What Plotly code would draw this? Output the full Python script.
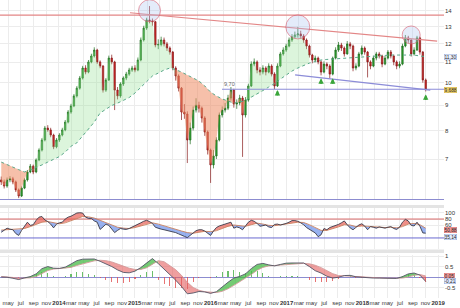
import numpy as np
import pandas as pd
import plotly.graph_objects as go

# ---------------- data ----------------
candle_start = "2013-03-29"      # bi-weekly candles
first_open = 6.35
close = [6.29, 6.17, 6.35, 6.38, 6.29, 6.06, 5.89, 6.11, 6.35, 6.59,
         6.77, 6.59, 6.97, 7.30, 7.65, 8.09, 8.02, 7.83, 7.41, 7.65,
         7.83, 8.02, 8.32, 8.72, 8.97, 9.40, 9.75, 10.22, 10.71, 10.51,
         11.02, 11.33, 11.65, 11.02, 10.81, 9.66, 10.13, 11.22, 11.02, 9.66,
         9.40, 9.94, 10.22, 10.41, 10.61, 10.71, 10.61, 11.12, 12.21, 12.91,
         13.41, 13.35, 13.30, 11.93, 11.95, 12.21, 11.99, 11.76, 11.54, 10.71,
         10.32, 9.75, 8.72, 8.64, 7.65, 8.09, 8.80, 9.00, 8.88, 8.48,
         7.94, 7.30, 6.81, 7.10, 7.65, 8.60, 8.80, 8.88, 9.31, 9.66,
         9.05, 9.10, 9.31, 8.60, 9.22, 9.85, 10.91, 11.02, 10.61, 10.51,
         10.71, 10.51, 10.81, 10.41, 9.85, 10.81, 11.44, 11.65, 11.87, 12.21,
         12.39, 12.50, 12.56, 12.44, 12.21, 11.87, 11.38, 11.12, 11.22, 11.02,
         10.51, 10.91, 10.81, 10.41, 11.22, 11.65, 11.93, 11.76, 11.44, 11.99,
         11.87, 10.71, 10.81, 11.44, 11.76, 11.54, 11.02, 10.81, 11.22, 11.44,
         11.33, 10.91, 11.22, 11.54, 11.33, 11.02, 10.81, 10.91, 11.87, 12.33,
         12.21, 11.44, 11.65, 12.33, 11.54, 10.13, 9.688]
high = [6.45, 6.36, 6.42, 6.46, 6.44, 6.33, 6.10, 6.16, 6.40, 6.65,
        6.84, 6.82, 7.02, 7.36, 7.72, 8.17, 8.20, 8.10, 7.88, 7.72,
        7.90, 8.10, 8.40, 8.80, 9.06, 9.48, 9.84, 10.32, 10.82, 10.85,
        11.12, 11.45, 11.80, 11.72, 11.10, 10.86, 10.22, 11.35, 11.40, 11.08,
        9.80, 10.02, 10.30, 10.52, 10.72, 10.82, 10.85, 11.25, 12.35, 13.05,
        13.55, 14.31, 13.50, 13.35, 12.25, 12.40, 12.35, 12.10, 11.85, 11.60,
        10.80, 10.40, 9.80, 9.05, 8.75, 8.30, 8.95, 9.30, 9.15, 8.95,
        8.55, 8.00, 7.35, 7.30, 7.75, 8.70, 8.95, 9.10, 9.45, 9.80,
        9.72, 9.25, 9.45, 9.40, 9.35, 9.95, 11.05, 11.20, 11.10, 10.75,
        10.85, 10.80, 10.95, 10.90, 10.50, 10.95, 11.55, 11.80, 12.00, 12.35,
        12.55, 12.70, 12.98, 12.75, 12.55, 12.30, 11.95, 11.45, 11.35, 11.30,
        11.10, 11.05, 11.00, 10.90, 11.30, 11.80, 12.10, 12.05, 11.85, 12.15,
        12.10, 11.95, 10.95, 11.55, 11.90, 11.85, 11.60, 11.10, 11.35, 11.55,
        11.55, 11.40, 11.35, 11.65, 11.65, 11.40, 11.10, 11.05, 12.00, 12.50,
        12.45, 12.25, 11.80, 12.45, 12.40, 11.60, 10.20]
low = [6.20, 6.10, 6.12, 6.28, 6.22, 6.00, 5.83, 5.86, 6.08, 6.30,
       6.55, 6.52, 6.55, 6.93, 7.25, 7.60, 7.95, 7.75, 7.33, 7.36,
       7.58, 7.78, 7.97, 8.27, 8.65, 8.92, 9.33, 9.68, 10.15, 10.40,
       10.45, 10.95, 11.25, 10.92, 10.70, 9.55, 9.58, 10.08, 10.90, 8.80,
       9.25, 9.32, 9.85, 10.12, 10.33, 10.52, 10.50, 10.55, 11.05, 12.12,
       12.80, 13.20, 13.05, 11.80, 11.70, 11.85, 11.85, 11.60, 11.40, 10.60,
       10.10, 9.60, 8.40, 8.45, 6.87, 7.50, 8.00, 8.70, 8.70, 8.30,
       7.80, 7.15, 6.26, 6.70, 7.00, 7.60, 8.50, 8.70, 8.80, 9.20,
       8.90, 8.85, 9.00, 7.07, 8.50, 9.15, 9.80, 10.80, 10.45, 10.35,
       10.40, 10.35, 10.45, 10.30, 9.70, 9.80, 10.75, 11.35, 11.55, 11.80,
       12.10, 12.30, 12.35, 12.30, 12.05, 11.70, 11.25, 10.95, 11.00, 10.90,
       10.35, 10.45, 10.65, 10.20, 10.35, 11.15, 11.55, 11.60, 11.30, 11.40,
       11.70, 10.55, 10.60, 10.75, 11.35, 11.40, 10.25, 10.65, 10.75, 11.10,
       11.20, 10.75, 10.85, 11.15, 11.20, 10.85, 10.65, 10.70, 10.85, 11.80,
       12.05, 11.30, 11.35, 11.60, 11.40, 10.00, 9.60]

# slow average of price (every 4 weeks)
trend_ma = [6.90, 6.83, 6.74, 6.66, 6.59, 6.65, 6.72, 6.81, 6.90, 7.00,
            7.08, 7.23, 7.43, 7.55, 7.80, 8.02, 8.32, 8.68, 8.84, 8.99,
            9.09, 9.20, 9.33, 9.53, 9.80, 10.08, 10.32, 10.46, 10.61, 10.71,
            10.63, 10.51, 10.37, 10.22, 10.08, 9.85, 9.57, 9.40, 9.27, 9.18,
            9.09, 9.14, 9.20, 9.35, 9.48, 9.64, 9.80, 9.96, 10.17, 10.37,
            10.56, 10.71, 10.84, 10.96, 11.04, 11.12, 11.15, 11.17, 11.22, 11.22,
            11.25, 11.27, 11.27, 11.30, 11.33, 11.33, 11.35, 11.38, 11.38, 11.38,
            11.38, 11.38, 11.33, 11.30]

# oscillator (bi-weekly) and its average (every 4 weeks)
rsi = [38, 45, 51, 48, 46, 34, 28, 44, 58, 70,
       60, 62, 76, 86, 88, 77, 72, 64, 52, 64,
       68, 70, 80, 86, 89, 94, 99, 100, 99, 86,
       82, 82, 74, 70, 47, 55, 64, 60, 50, 37,
       44, 50, 48, 47, 50, 54, 58, 62, 68, 73,
       76, 72, 66, 54, 50, 48, 46, 44, 41, 39,
       37, 33, 28, 25, 21, 28, 36, 43, 46, 46,
       42, 35, 28, 42, 53, 58, 61, 64, 68, 70,
       51, 55, 52, 46, 58, 70, 76, 73, 66, 57,
       59, 61, 55, 53, 63, 64, 61, 63, 66, 70,
       75, 75, 73, 68, 62, 53, 48, 42, 36, 24,
       30, 50, 46, 53, 56, 58, 63, 68, 74, 62,
       52, 46, 53, 61, 65, 58, 46, 56, 54, 51,
       55, 54, 51, 54, 56, 50, 47, 54, 70, 79,
       74, 60, 58, 70, 57, 36, 35.14]
rsi_signal = [45, 46, 47, 47, 50, 56, 63, 70, 72, 68,
              65, 68, 75, 82, 88, 87, 83, 76, 68, 60,
              54, 51, 50, 53, 58, 65, 68, 64, 58, 52,
              47, 42, 37, 35, 38, 41, 40, 43, 50, 57,
              61, 59, 57, 62, 67, 64, 60, 59, 61, 63,
              67, 70, 69, 62, 52, 44, 44, 49, 55, 62,
              61, 56, 58, 57, 55, 54, 53, 54, 52, 56,
              64, 66, 62, 50.88]

macd = [0.00, -0.01, -0.06, -0.12, -0.04, 0.02, 0.15, 0.40, 0.50, 0.42,
        0.41, 0.47, 0.62, 0.78, 0.85, 0.87, 0.86, 0.75, 0.64, 0.50,
        0.34, 0.22, 0.20, 0.28, 0.45, 0.68, 0.88, 0.64, 0.38, 0.12,
        -0.15, -0.45, -0.80, -0.76, -0.69, -0.71, -0.78, -0.70, -0.46, -0.25,
        -0.05, 0.03, 0.15, 0.40, 0.60, 0.65, 0.58, 0.53, 0.60, 0.66,
        0.67, 0.67, 0.67, 0.50, 0.30, 0.19, 0.04, -0.05, -0.01, 0.07,
        0.08, 0.01, -0.02, -0.02, -0.05, -0.05, -0.05, -0.07, -0.07, 0.02,
        0.15, 0.19, 0.09, -0.21]
macd_signal = [0.02, 0.01, -0.02, -0.05, -0.06, -0.04, 0.02, 0.15, 0.31, 0.38,
               0.40, 0.42, 0.46, 0.55, 0.63, 0.71, 0.77, 0.80, 0.78, 0.72,
               0.62, 0.52, 0.42, 0.36, 0.36, 0.44, 0.60, 0.78, 0.73, 0.55,
               0.35, 0.08, -0.25, -0.50, -0.63, -0.70, -0.73, -0.74, -0.68, -0.56,
               -0.40, -0.21, -0.05, 0.12, 0.32, 0.46, 0.53, 0.55, 0.57, 0.60,
               0.62, 0.64, 0.65, 0.63, 0.56, 0.45, 0.30, 0.16, 0.07, 0.05,
               0.05, 0.04, 0.02, 0.00, -0.02, -0.04, -0.05, -0.06, -0.06, -0.05,
               0.00, 0.08, 0.12, 0.05]

price_ticks = [7, 8, 9, 10, 11, 12, 13, 14]
rsi_ticks = [60, 80, 100]
macd_ticks = [-0.5, 0.5, 1]
rsi_levels = [80, 20]

resistance = 13.72
support = 9.70
support_from = "2016-02-25"
upper_trend_x = ["2014-12-09", "2018-12-27"]
upper_trend_y = [13.87, 12.15]
lower_trend_x = ["2017-02-11", "2018-11-24"]
lower_trend_y = [10.37, 9.66]
peak_idx = [51, 102, 141]
peak_level = [14.0, 12.98, 12.5]
peak_radius_px = [11, 12, 9]
signal_idx = [95, 110, 114, 146]
fill_regimes = [(0, 10, "down"), (10, 60, "up"), (60, 84, "down"), (84, 106, "up")]
x_start, x_end = "2013-03-23", "2019-01-29"

# ---------------- construction ----------------
dates = pd.date_range(candle_start, periods=len(close), freq="14D")
ind_dates = dates[::2]
opens = [first_open] + close[:-1]
dl = list(dates.to_pydatetime())
il = list(ind_dates.to_pydatetime())

tick_dates = pd.date_range("2013-05-01", "2019-01-01", freq="2MS")
tick_text = [f"<b>{d.year}</b>" if d.month == 1 else d.strftime("%b").lower() for d in tick_dates]

def fmt(v, n=2):
    return f"{v:.{n}f}".replace(".", ",")

def band_traces(xv, a, b, col_pos, col_neg, xa, ya):
    n = len(xv)
    sign = [(a[i] + a[i + 1]) >= (b[i] + b[i + 1]) for i in range(n - 1)]
    runs = []
    s = 0
    for i in range(1, n - 1):
        if sign[i] != sign[s]:
            runs.append((s, i, sign[s]))
            s = i
    runs.append((s, n - 1, sign[s]))
    out = []
    for want, col in ((True, col_pos), (False, col_neg)):
        px, py = [], []
        for s, e, sg in runs:
            if sg != want:
                continue
            seg_x = xv[s:e + 1]
            px += seg_x + seg_x[::-1] + [None]
            py += list(a[s:e + 1]) + list(b[s:e + 1])[::-1] + [None]
        if px:
            out.append(go.Scatter(x=px, y=py, fill="toself", fillcolor=col, mode="lines",
                                  line=dict(width=0), hoverinfo="skip", xaxis=xa, yaxis=ya))
    return out

fig = go.Figure()

# main panel: fills between price and its slow average
for a, b, kind in fill_regimes:
    xs = dl[a:b + 1] + il[a // 2:b // 2 + 1][::-1]
    ys = close[a:b + 1] + trend_ma[a // 2:b // 2 + 1][::-1]
    col = "rgba(150,225,150,0.33)" if kind == "up" else "rgba(238,140,100,0.55)"
    fig.add_trace(go.Scatter(x=xs, y=ys, fill="toself", fillcolor=col, mode="lines",
                             line=dict(width=0), hoverinfo="skip", xaxis="x", yaxis="y"))

fig.add_trace(go.Scatter(x=il, y=trend_ma, mode="lines", line=dict(color="#5aa88a", width=1, dash="dot"),
                         xaxis="x", yaxis="y", hoverinfo="skip"))

# trend lines
fig.add_trace(go.Scatter(x=[x_start, x_end], y=[resistance, resistance], mode="lines",
                         line=dict(color="#e38686", width=1.2), xaxis="x", yaxis="y"))
fig.add_trace(go.Scatter(x=upper_trend_x, y=upper_trend_y, mode="lines",
                         line=dict(color="#e38686", width=1.2), xaxis="x", yaxis="y"))
fig.add_trace(go.Scatter(x=[support_from, x_end], y=[support, support], mode="lines",
                         line=dict(color="#8c8cd8", width=1.2), xaxis="x", yaxis="y"))
fig.add_trace(go.Scatter(x=lower_trend_x, y=lower_trend_y, mode="lines",
                         line=dict(color="#8c8cd8", width=1.2), xaxis="x", yaxis="y"))

fig.add_trace(go.Candlestick(
    x=dates, open=opens, high=high, low=low, close=close,
    increasing=dict(line=dict(color="#1d6b1d", width=0.7), fillcolor="#2fa32f"),
    decreasing=dict(line=dict(color="#861818", width=0.7), fillcolor="#d42a2a"),
    whiskerwidth=0, xaxis="x", yaxis="y", hoverinfo="skip"))

# highlight circles around peaks
fig.add_trace(go.Scatter(
    x=[dl[i] for i in peak_idx], y=peak_level, mode="markers", xaxis="x", yaxis="y",
    marker=dict(symbol="circle", size=[2 * r for r in peak_radius_px],
                color="rgba(170,195,240,0.45)", line=dict(color="rgba(215,90,110,0.85)", width=1)),
    hoverinfo="skip", cliponaxis=True))

# oscillator panel
t_k = dates.asi8.astype(float)
t_j = ind_dates.asi8.astype(float)
sig_k = np.interp(t_k, t_j, rsi_signal)
for lv, col in zip(rsi_levels, ["#d86a6a", "#6a6ad0"]):
    fig.add_trace(go.Scatter(x=[x_start, x_end], y=[lv, lv], mode="lines", line=dict(color=col, width=1),
                             xaxis="x2", yaxis="y2"))
for tr in band_traces(dl, rsi, list(sig_k), "rgba(232,95,85,0.7)", "rgba(95,135,232,0.65)", "x2", "y2"):
    fig.add_trace(tr)
fig.add_trace(go.Scatter(x=il, y=rsi_signal, mode="lines", line=dict(color="#c8805e", width=0.9),
                         xaxis="x2", yaxis="y2"))
fig.add_trace(go.Scatter(x=dl, y=rsi, mode="lines", line=dict(color="#3a3a4a", width=0.9),
                         xaxis="x2", yaxis="y2"))

# MACD panel
hist = [m - s for m, s in zip(macd, macd_signal)]
fig.add_trace(go.Bar(x=il, y=hist, width=4.5e8,
                     marker=dict(color=["rgba(70,175,70,0.8)" if h >= 0 else "rgba(225,80,80,0.8)" for h in hist],
                                 line=dict(width=0)),
                     xaxis="x3", yaxis="y3", hoverinfo="skip"))
for tr in band_traces(il, macd, macd_signal, "rgba(70,185,70,0.75)", "rgba(228,95,95,0.6)", "x3", "y3"):
    fig.add_trace(tr)
fig.add_trace(go.Scatter(x=il, y=macd_signal, mode="lines", line=dict(color="#d49a9a", width=0.9),
                         xaxis="x3", yaxis="y3"))
fig.add_trace(go.Scatter(x=il, y=macd, mode="lines", line=dict(color="#555566", width=0.9),
                         xaxis="x3", yaxis="y3"))

# up arrows under touches
annots = []
for i in signal_idx:
    annots.append(dict(x=dl[i], y=np.log10(low[i]), xref="x", yref="y", text="", showarrow=True,
                       arrowhead=2, arrowsize=0.6, arrowwidth=1.8, arrowcolor="#3aa53a",
                       ax=0, ay=10, standoff=3))
lab_font = dict(family="Liberation Sans, Arial", size=4.8, color="#222")
annots.append(dict(x=support_from, y=np.log10(support), xref="x", yref="y", text=fmt(support),
                   showarrow=False, xanchor="left", yanchor="bottom",
                   font=dict(size=5.5, color="#666", family="Liberation Sans, Arial")))

def rlabel(v, txt, yref, bg, border, log=False, yshift=0):
    annots.append(dict(x=1, y=np.log10(v) if log else v, xref="paper", yref=yref, text=txt,
                       showarrow=False, xanchor="left", yanchor="middle", xshift=0, yshift=yshift,
                       font=lab_font, bgcolor=bg, bordercolor=border, borderwidth=0.5, borderpad=0))

rlabel(trend_ma[-1], fmt(trend_ma[-1]), "y", "#eef3ff", "#8fa6d8", log=True)
rlabel(close[-1], fmt(close[-1], 3), "y", "#f2d46a", "#d4b040", log=True)
rlabel(rsi_signal[-1], fmt(rsi_signal[-1]), "y2", "#f29a9a", "#d86a6a", yshift=-1.5)
rlabel(rsi[-1], fmt(rsi[-1]), "y2", "#e4ebff", "#8fa6d8", yshift=-3.5)
rlabel(macd_signal[-1], fmt(macd_signal[-1], 2), "y3", "#f29a9a", "#d86a6a")
rlabel(macd[-1], fmt(macd[-1], 2), "y3", "#e4ebff", "#8fa6d8")

# panel separators
for y0, y1 in [(1 - 208 / 298, 1 - 205 / 298), (1 - 253 / 298, 1 - 249.5 / 298)]:
    fig.add_shape(type="rect", xref="paper", yref="paper", x0=0, x1=1, y0=y0, y1=y1,
                  fillcolor="#e4e4e4", line=dict(width=0), layer="below")

grid = "#ececec"
tfont = dict(family="Liberation Sans, Arial", size=6, color="#333")
common_x = dict(range=[x_start, x_end], tickvals=list(tick_dates), showgrid=True, gridcolor=grid,
                gridwidth=1, zeroline=False, ticks="", fixedrange=True)
fig.update_layout(
    width=460, height=308, margin=dict(l=0, r=16, t=0, b=10, autoexpand=False),
    paper_bgcolor="white", plot_bgcolor="white", showlegend=False, bargap=0,
    xaxis=dict(**common_x, anchor="y", showticklabels=False, rangeslider=dict(visible=False),
               showline=True, linecolor="#8c8cd0", linewidth=1),
    xaxis2=dict(**common_x, anchor="y2", matches="x", showticklabels=False),
    xaxis3=dict(**common_x, anchor="y3", matches="x", ticktext=tick_text, showticklabels=True,
                tickfont=tfont, tickangle=0, automargin=False),
    yaxis=dict(type="log", range=[np.log10(5.807), np.log10(14.72)], domain=[1 - 199 / 298, 1],
               side="right", tickvals=price_ticks, ticktext=[str(v) for v in price_ticks],
               tickfont=tfont, gridcolor=grid, zeroline=False, ticks="", fixedrange=True,
               automargin=False),
    yaxis2=dict(range=[-15, 115], domain=[1 - 249 / 298, 1 - 208 / 298], side="right",
                tickvals=rsi_ticks, tickfont=tfont, gridcolor=grid, zeroline=False, ticks="",
                fixedrange=True, automargin=False),
    yaxis3=dict(range=[-1.0, 1.05], domain=[0, 1 - 255 / 298], side="right", tickvals=macd_ticks,
                ticktext=["-0.5", "0.5", "1"], tickfont=tfont, gridcolor=grid, zeroline=True,
                zerolinecolor="#8c8cd0", zerolinewidth=1, ticks="", fixedrange=True, automargin=False),
    annotations=annots,
)

fig.write_html("out.html", config={"displayModeBar": False})
